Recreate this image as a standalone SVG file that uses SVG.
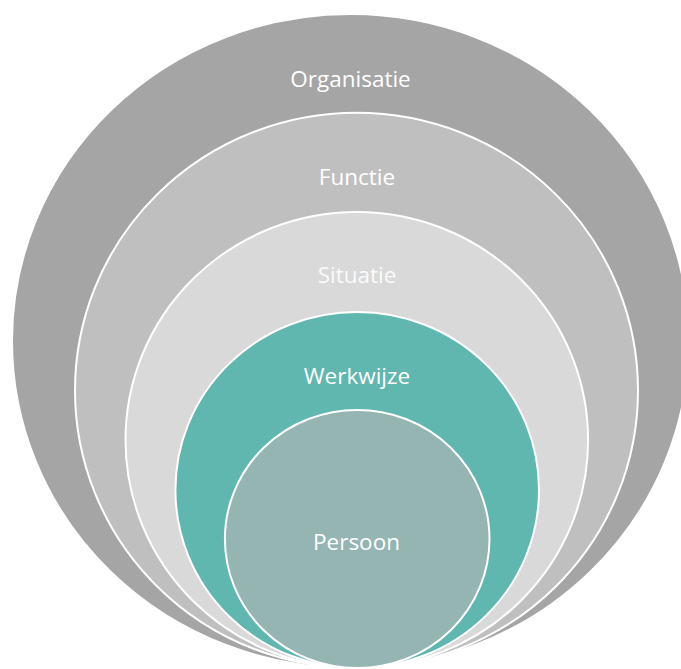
<svg xmlns="http://www.w3.org/2000/svg" width="681" height="669" viewBox="0 0 681 669">
  <style>
    .ring { stroke: #ffffff; stroke-width: 2; }
    .label { font-family: "Open Sans", "Noto Sans", "Liberation Sans", sans-serif; font-size: 22.5px; fill: #ffffff; text-anchor: middle; }
  </style>
  <rect width="681" height="669" fill="#ffffff"/>
  <!-- nested layers, all touching at the bottom -->
  <g id="organisatie">
    <ellipse class="ring" cx="350.5" cy="341" rx="338.5" ry="327" fill="#a5a5a5"/>
    <text class="label" x="350.5" y="87">Organisatie</text>
  </g>
  <g id="functie">
    <ellipse class="ring" cx="356.5" cy="390.4" rx="281.5" ry="277.6" fill="#bfbfbf"/>
    <text class="label" x="357" y="185">Functie</text>
  </g>
  <g id="situatie">
    <ellipse class="ring" cx="356.8" cy="440" rx="231.3" ry="228" fill="#d9d9d9"/>
    <text class="label" x="357" y="283" fill-opacity="0.9">Situatie</text>
  </g>
  <g id="werkwijze">
    <ellipse class="ring" cx="357.2" cy="490" rx="181.8" ry="178" fill="#5fb7b0"/>
    <text class="label" x="357" y="384">Werkwijze</text>
  </g>
  <g id="persoon">
    <ellipse class="ring" cx="357.2" cy="539" rx="132.3" ry="129" fill="#95b5b2"/>
    <text class="label" x="356.5" y="549.5">Persoon</text>
  </g>
  <g id="connectors"/>
</svg>
